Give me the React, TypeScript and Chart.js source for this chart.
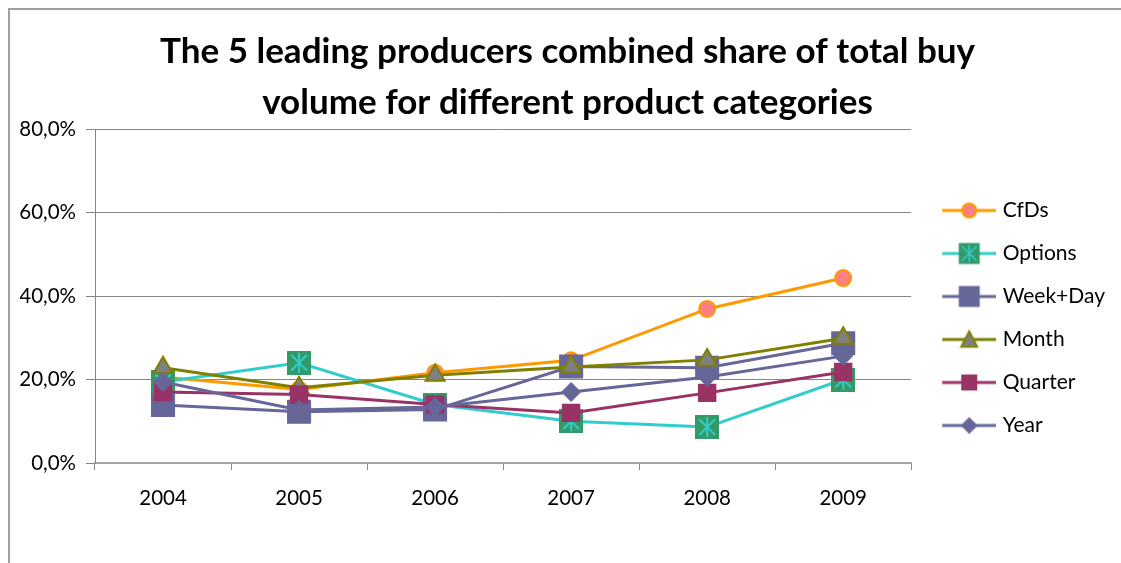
import React, { useEffect, useRef } from 'react';
import { Chart, registerables } from 'chart.js';

Chart.register(...registerables);

// ---------- data ----------
const categories = ['2004', '2005', '2006', '2007', '2008', '2009'];
const seriesNames = ['CfDs', 'Options', 'Week+Day', 'Month', 'Quarter', 'Year'];
const cfdsValues = [20.6, 17.6, 21.6, 24.6, 36.9, 44.3];
const optionsValues = [19.4, 24.0, 14.0, 10.0, 8.6, 20.0];
const weekDayValues = [13.9, 12.3, 12.8, 23.1, 22.8, 28.7];
const monthValues = [22.8, 18.0, 21.0, 23.0, 24.7, 29.9];
const quarterValues = [17.0, 16.4, 14.0, 12.0, 16.8, 21.8];
const yearValues = [19.4, 12.7, 13.4, 17.0, 20.6, 25.6];
const titleLines = [
  'The 5 leading producers combined share of total buy',
  'volume for different product categories',
];
const yMin = 0;
const yMax = 80;
const yStep = 20;

const FONT = 'Lato, "Open Sans", sans-serif';
const LEGEND_FONT_SIZE = 21;
const AXIS_FONT_SIZE = 20.5;

type MarkerKind = 'circle' | 'star' | 'square' | 'triangle' | 'squareSmall' | 'diamond';

const lineColors = ['#FF9900', '#33CCCC', '#666699', '#808000', '#993366', '#666699'];
const markerKinds: MarkerKind[] = ['circle', 'star', 'square', 'triangle', 'squareSmall', 'diamond'];

function drawMarker(ctx: CanvasRenderingContext2D, kind: MarkerKind, cx: number, cy: number, k: number) {
  ctx.save();
  if (kind === 'circle') {
    ctx.beginPath();
    ctx.arc(cx, cy, 7 * k, 0, Math.PI * 2);
    ctx.fillStyle = '#FF8080';
    ctx.fill();
    ctx.lineWidth = 2;
    ctx.strokeStyle = '#FF9900';
    ctx.stroke();
  } else if (kind === 'star') {
    const h = 10.5 * k;
    ctx.fillStyle = '#339966';
    ctx.fillRect(cx - h, cy - h, 2 * h, 2 * h);
    ctx.strokeStyle = '#33CCCC';
    ctx.lineWidth = 1.6;
    ctx.beginPath();
    ctx.moveTo(cx, cy - h + 2);
    ctx.lineTo(cx, cy + h - 2);
    ctx.moveTo(cx - h + 3, cy - h + 3);
    ctx.lineTo(cx + h - 3, cy + h - 3);
    ctx.moveTo(cx + h - 3, cy - h + 3);
    ctx.lineTo(cx - h + 3, cy + h - 3);
    ctx.stroke();
  } else if (kind === 'square') {
    const h = 10.5 * k;
    ctx.fillStyle = '#666699';
    ctx.fillRect(cx - h, cy - h, 2 * h, 2 * h);
  } else if (kind === 'squareSmall') {
    const h = 8 * k;
    ctx.fillStyle = '#993366';
    ctx.fillRect(cx - h, cy - h, 2 * h, 2 * h);
  } else if (kind === 'triangle') {
    const w = 8 * k;
    ctx.beginPath();
    ctx.moveTo(cx, cy - w);
    ctx.lineTo(cx + w, cy + w * 0.9);
    ctx.lineTo(cx - w, cy + w * 0.9);
    ctx.closePath();
    ctx.fillStyle = '#808080';
    ctx.fill();
    ctx.lineWidth = 2;
    ctx.strokeStyle = '#808000';
    ctx.stroke();
  } else if (kind === 'diamond') {
    const r = 8.5 * k;
    ctx.beginPath();
    ctx.moveTo(cx, cy - r);
    ctx.lineTo(cx + r, cy);
    ctx.lineTo(cx, cy + r);
    ctx.lineTo(cx - r, cy);
    ctx.closePath();
    ctx.fillStyle = '#666699';
    ctx.fill();
  }
  ctx.restore();
}

function makeLegendImage(i: number): HTMLCanvasElement {
  const c = document.createElement('canvas');
  c.width = 67;
  c.height = 28;
  const ctx = c.getContext('2d')!;
  ctx.strokeStyle = lineColors[i];
  ctx.lineWidth = 3;
  ctx.beginPath();
  ctx.moveTo(13, 14);
  ctx.lineTo(67, 14);
  ctx.stroke();
  drawMarker(ctx, markerKinds[i], 40, 14, 1);
  return c;
}

function makeOptionsPoint(): HTMLCanvasElement {
  const c = document.createElement('canvas');
  c.width = 24;
  c.height = 24;
  const ctx = c.getContext('2d')!;
  ctx.fillStyle = '#339966';
  ctx.fillRect(0, 0, 24, 24);
  ctx.strokeStyle = '#33CCCC';
  ctx.lineWidth = 2;
  ctx.beginPath();
  ctx.moveTo(12, 2);
  ctx.lineTo(12, 22);
  ctx.moveTo(4, 4);
  ctx.lineTo(20, 20);
  ctx.moveTo(20, 4);
  ctx.lineTo(4, 20);
  ctx.stroke();
  return c;
}

export default function App() {
  const canvasRef = useRef<HTMLCanvasElement | null>(null);

  useEffect(() => {
    const canvas = canvasRef.current;
    if (!canvas) return;
    document.documentElement.style.overflow = 'hidden';
    document.body.style.overflow = 'hidden';

    const legendImages = seriesNames.map((_, i) => makeLegendImage(i));
    const optionsPoint = makeOptionsPoint();

    const mctx = canvas.getContext('2d')!;
    mctx.font = `${LEGEND_FONT_SIZE}px ${FONT}`;
    const maxLabel = Math.max(...seriesNames.map((n) => mctx.measureText(n).width));
    const padRight = Math.max(0, Math.round(108 - maxLabel));

    const base = {
      fill: false,
      borderWidth: 3,
      tension: 0,
      pointBorderWidth: 0,
    };

    const chart = new Chart(canvas, {
      type: 'line',
      data: {
        labels: categories,
        datasets: [
          {
            ...base,
            label: seriesNames[0],
            data: cfdsValues,
            borderColor: '#FF9900',
            backgroundColor: '#FF8080',
            pointStyle: 'circle',
            pointRadius: 8,
            pointBorderWidth: 2,
            pointBorderColor: '#FF9900',
            pointBackgroundColor: '#FF8080',
            order: 5,
          },
          {
            ...base,
            label: seriesNames[1],
            data: optionsValues,
            borderColor: '#33CCCC',
            backgroundColor: '#339966',
            pointStyle: optionsPoint,
            pointRadius: 12,
            order: 4,
          },
          {
            ...base,
            label: seriesNames[2],
            data: weekDayValues,
            borderColor: '#666699',
            backgroundColor: '#666699',
            pointStyle: 'rect',
            pointRadius: 17,
            pointBackgroundColor: '#666699',
            order: 3,
          },
          {
            ...base,
            label: seriesNames[3],
            data: monthValues,
            borderColor: '#808000',
            backgroundColor: '#808080',
            pointStyle: 'triangle',
            pointRadius: 11,
            pointBorderWidth: 2,
            pointBorderColor: '#808000',
            pointBackgroundColor: '#808080',
            order: 2,
          },
          {
            ...base,
            label: seriesNames[4],
            data: quarterValues,
            borderColor: '#993366',
            backgroundColor: '#993366',
            pointStyle: 'rect',
            pointRadius: 13,
            pointBackgroundColor: '#993366',
            order: 1,
          },
          {
            ...base,
            label: seriesNames[5],
            data: yearValues,
            borderColor: '#666699',
            backgroundColor: '#666699',
            pointStyle: 'rectRot',
            pointRadius: 10,
            pointBackgroundColor: '#666699',
            order: 0,
          },
        ],
      },
      options: {
        responsive: false,
        animation: false,
        devicePixelRatio: 1,
        layout: { padding: { left: 10, right: padRight, top: 0, bottom: 48 } },
        plugins: {
          title: {
            display: true,
            text: titleLines,
            color: '#000',
            font: { family: FONT, size: 35, weight: 'bold', lineHeight: 51 / 35 },
            padding: { top: 16.5, bottom: 0.5 },
          },
          legend: {
            position: 'right',
            title: {
              display: true,
              text: '',
              font: { family: FONT, size: 10, lineHeight: 1.2 },
              padding: { top: 99, bottom: 0 },
            },
            labels: {
              usePointStyle: true,
              pointStyleWidth: 59,
              padding: 43 - LEGEND_FONT_SIZE,
              color: '#000',
              font: { family: FONT, size: LEGEND_FONT_SIZE },
              sort: (a: any, b: any) => a.datasetIndex - b.datasetIndex,
              generateLabels: (ch: any) => {
                const items = Chart.defaults.plugins.legend.labels.generateLabels(ch);
                return items.map((it: any) => ({ ...it, pointStyle: legendImages[it.datasetIndex] }));
              },
            },
          },
          tooltip: { enabled: false },
        },
        scales: {
          x: {
            offset: true,
            grid: { offset: true, drawOnChartArea: false, drawTicks: true, tickLength: 7, color: '#868686' },
            border: { color: '#a6a6a6', width: 2 },
            ticks: { color: '#000', font: { family: FONT, size: AXIS_FONT_SIZE }, padding: 16, maxRotation: 0 },
            afterFit: (s: any) => {
              s.height = 52;
            },
          },
          y: {
            min: yMin,
            max: yMax,
            grid: { color: '#868686', tickLength: 9 },
            border: { color: '#868686' },
            ticks: {
              stepSize: yStep,
              color: '#000',
              font: { family: FONT, size: AXIS_FONT_SIZE },
              padding: 10,
              callback: (v: any) => `${Number(v).toFixed(1).replace('.', ',')}%`,
            },
            afterFit: (s: any) => {
              s.width = 75;
            },
          },
        },
      },
    } as any);

    return () => chart.destroy();
  }, []);

  return (
    <div
      style={{
        position: 'fixed',
        left: 8,
        top: 8,
        width: 1140,
        height: 570,
        borderTop: '2px solid #a0a0a0',
        borderLeft: '2px solid #a0a0a0',
        background: '#fff',
        overflow: 'hidden',
      }}
    >
      <canvas ref={canvasRef} width={1111} height={553} style={{ display: 'block' }} />
    </div>
  );
}
